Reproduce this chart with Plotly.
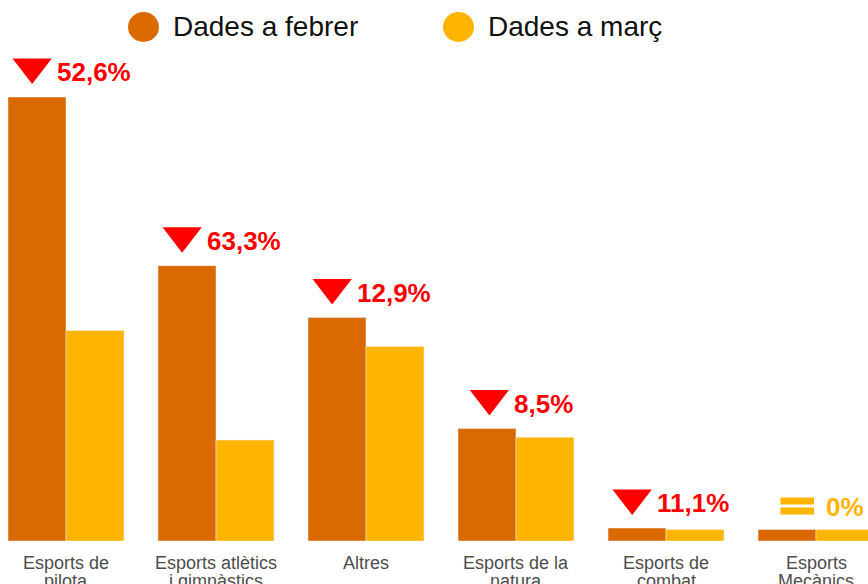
import plotly.graph_objects as go

# ---- data ----
categories = ["Esports de<br>pilota", "Esports atlètics<br>i gimnàstics", "Altres",
              "Esports de la<br>natura", "Esports de<br>combat", "Esports<br>Mecànics"]
febrer = [308, 191, 155, 78, 9, 8]
marc = [146, 70, 135, 72, 8, 8]
change_labels = ["52,6%", "63,3%", "12,9%", "8,5%", "11,1%", "0%"]
trend = ["down", "down", "down", "down", "down", "equal"]
series_names = ["Dades a febrer", "Dades a març"]

# ---- styling ----
C_FEB = "#DA6A00"
C_MAR = "#FFB500"
C_RED = "#FF0000"
FONT = "Arial, Liberation Sans, sans-serif"

W, H = 868, 584
MB = 43                      # bottom margin
PLOT_H = H - MB
X_RANGE = [-0.44, -0.44 + W / 150.0]
PX_X = W / (X_RANGE[1] - X_RANGE[0])
Y_MAX = max(febrer) * PLOT_H / 444.0
PX_Y = PLOT_H / Y_MAX

LBL_FS = 26
CW = {c: 0.556 for c in "0123456789"}
CW.update({",": 0.278, "%": 0.889})


def text_w(s):
    return sum(CW.get(c, 0.556) for c in s) * LBL_FS


xs = list(range(len(categories)))
fig = go.Figure()
fig.add_bar(x=xs, y=febrer, name=series_names[0], marker_color=C_FEB, showlegend=False)
fig.add_bar(x=xs, y=marc, name=series_names[1], marker_color=C_MAR, showlegend=False)

tri_x, tri_y = [], []
eq_x, eq_y = [], []
annotations = []
for i, (f, lab, t) in enumerate(zip(febrer, change_labels, trend)):
    top = max(f, marc[i])
    if t == "down":
        icon_w, gap = 38, 4
    else:
        icon_w, gap = 34, 10
    gw = icon_w + gap + text_w(lab)
    left = 5 - gw / 2.0
    icon_cx = i + (left + icon_w / 2.0) / PX_X
    if t == "down":
        tri_x.append(icon_cx)
        tri_y.append(top + 30 / PX_Y)
        col, ysh = C_RED, 25
    else:
        eq_x += [icon_cx, icon_cx]
        eq_y += [top + 28.5 / PX_Y, top + 18.5 / PX_Y]
        col, ysh = C_MAR, 22
    annotations.append(dict(x=i, y=top, xref="x", yref="y", text="<b>%s</b>" % lab,
                            showarrow=False, xanchor="left", yanchor="middle",
                            xshift=left + icon_w + gap, yshift=ysh,
                            font=dict(family=FONT, size=LBL_FS, color=col)))

# category labels (two tight lines each)
for i, cat in enumerate(categories):
    for k, line in enumerate(cat.split("<br>")):
        annotations.append(dict(x=i, y=0, xref="x", yref="y", text=line, showarrow=False,
                                xanchor="center", yanchor="middle", yshift=-22 - 18 * k,
                                font=dict(family=FONT, size=18, color="#4d4d4d")))

fig.add_scatter(x=tri_x, y=tri_y, mode="markers", showlegend=False, hoverinfo="skip",
                marker=dict(symbol="triangle-down", size=34, color=C_RED, line_width=0))
fig.add_scatter(x=eq_x, y=eq_y, mode="markers", showlegend=False, hoverinfo="skip",
                marker=dict(symbol="line-ew", size=24, color=C_MAR,
                            line=dict(color=C_MAR, width=7)))

# custom legend (big circles)
shapes = []
legend_items = [(series_names[0], C_FEB, 128, 171), (series_names[1], C_MAR, 443, 486)]
for name, col, cx0, tx in legend_items:
    shapes.append(dict(type="circle", xref="paper", yref="paper",
                       x0=cx0 / W, x1=(cx0 + 31) / W,
                       y0=(PLOT_H - 42) / PLOT_H, y1=(PLOT_H - 12) / PLOT_H,
                       fillcolor=col, line_width=0))
    annotations.append(dict(x=tx / W, y=(PLOT_H - 27) / PLOT_H, xref="paper", yref="paper",
                            text=name, showarrow=False, xanchor="left", yanchor="middle",
                            font=dict(family=FONT, size=28, color="#111111")))

fig.update_layout(
    width=W, height=H,
    margin=dict(l=0, r=0, t=0, b=MB),
    plot_bgcolor="white", paper_bgcolor="white",
    barmode="group", bargap=0.227, bargroupgap=0,
    shapes=shapes, annotations=annotations,
    font=dict(family=FONT),
)
fig.update_xaxes(range=X_RANGE, tickvals=xs, showticklabels=False, showgrid=False,
                 zeroline=False, showline=False, ticks="")
fig.update_yaxes(range=[0, Y_MAX], visible=False, showgrid=False, zeroline=False)

fig.write_html("out.html", config={"displayModeBar": False},
               post_script="document.body.style.margin='0px';")
